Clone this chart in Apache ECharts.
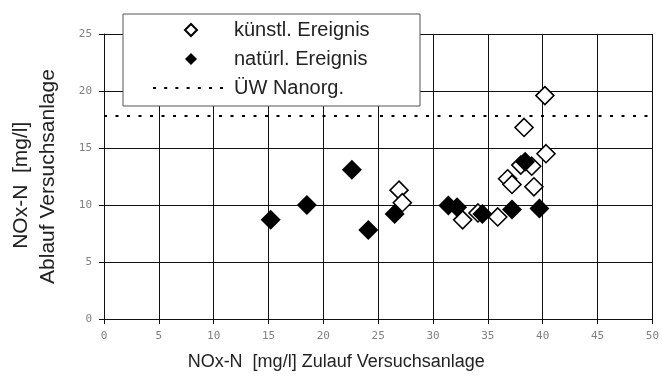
<!DOCTYPE html>
<html>
<head>
<meta charset="utf-8">
<script src="https://cdn.jsdelivr.net/npm/echarts@6/dist/echarts.min.js"></script>
<style>html,body{margin:0;padding:0;background:#fff}#c{width:662px;height:376px}</style>
</head>
<body>
<div id="c"></div>
<script>
// ---- data ----
const xTicks = [0, 5, 10, 15, 20, 25, 30, 35, 40, 45, 50];
const yTicks = [0, 5, 10, 15, 20, 25];

const seriesNames = ['künstl. Ereignis', 'natürl. Ereignis', 'ÜW Nanorg.'];

const kuenstlX = [26.9, 27.2, 32.7, 34.1, 35.9, 36.8, 37.2, 38.0, 39.0, 39.2, 38.3, 40.2, 40.3];
const kuenstlY = [11.3, 10.2, 8.7, 9.3, 8.95, 12.3, 11.8, 13.5, 13.4, 11.6, 16.8, 19.6, 14.5];

const natuerlX = [15.2, 18.5, 22.6, 24.1, 26.5, 31.4, 32.2, 34.5, 37.2, 38.4, 39.7];
const natuerlY = [8.7, 10.0, 13.1, 7.8, 9.2, 9.95, 9.8, 9.2, 9.6, 13.8, 9.7];

const limitValue = 17.8;

const xTitle = 'NOx-N  [mg/l] Zulauf Versuchsanlage';
const yTitleLine1 = 'NOx-N  [mg/l]';
const yTitleLine2 = 'Ablauf Versuchsanlage';

// ---- chart ----
const pair = (xs, ys) => xs.map((x, i) => [x, ys[i]]);
const xMin = xTicks[0], xMax = xTicks[xTicks.length - 1];
const yMin = yTicks[0], yMax = yTicks[yTicks.length - 1];

const diamondIcon = 'path://M0,0M70,12M38,0L44,6L38,12L32,6Z';
const dottedIcon = 'path://M0,0M70,12M0,5h3v2h-3Z M11.2,5h3v2h-3Z M22.4,5h3v2h-3Z M33.6,5h3v2h-3Z M44.8,5h3v2h-3Z M56,5h3v2h-3Z M67,5h3v2h-3Z';
const FONT = 'Liberation Sans';

const chart = echarts.init(document.getElementById('c'), null, {renderer: 'canvas'});
chart.setOption({
  animation: false,
  backgroundColor: '#fff',
  grid: {left: 103, right: 8, top: 34, bottom: 53, containLabel: false},
  legend: {
    orient: 'vertical',
    left: 123, top: 14,
    padding: [5, 26, 7, 29],
    backgroundColor: '#fff',
    borderColor: '#555',
    borderWidth: 1,
    itemWidth: 70, itemHeight: 12, itemGap: 7,
    textStyle: {fontFamily: FONT, fontSize: 20, lineHeight: 22, color: '#222', padding: [0, 0, 0, 6], width: 160},
    data: [
      {name: seriesNames[0], icon: diamondIcon},
      {name: seriesNames[1], icon: diamondIcon},
      {name: seriesNames[2], icon: dottedIcon, itemStyle: {color: '#000', borderWidth: 0}}
    ],
    selectedMode: false
  },
  xAxis: {
    type: 'value', min: xMin, max: xMax, interval: xTicks[1] - xTicks[0],
    name: xTitle, nameLocation: 'middle', nameGap: 34,
    nameTextStyle: {fontFamily: FONT, fontSize: 18, color: '#222', padding: [0, 84, 0, 0]},
    axisLine: {lineStyle: {color: '#111', width: 1}},
    axisTick: {show: true, length: 5, lineStyle: {color: '#111'}},
    axisLabel: {margin: 12, fontFamily: 'DejaVu Sans Mono', fontSize: 11, color: '#808080'},
    splitLine: {show: true, lineStyle: {color: '#111', width: 1}}
  },
  yAxis: {
    type: 'value', min: yMin, max: yMax, interval: yTicks[1] - yTicks[0],
    name: yTitleLine1 + '   \n' + yTitleLine2, nameLocation: 'middle', nameGap: 42,
    nameTextStyle: {fontFamily: FONT, fontSize: 21, lineHeight: 27, color: '#222', align: 'center'},
    axisLine: {show: true, lineStyle: {color: '#111', width: 1}},
    axisTick: {show: true, length: 5, lineStyle: {color: '#111'}},
    axisLabel: {margin: 12, fontFamily: 'DejaVu Sans Mono', fontSize: 11, color: '#808080'},
    splitLine: {show: true, lineStyle: {color: '#111', width: 1}}
  },
  series: [
    {
      name: seriesNames[0], type: 'scatter', symbol: 'diamond', symbolSize: 18, z: 3,
      itemStyle: {color: '#fff', borderColor: '#000', borderWidth: 1.6, opacity: 1},
      data: pair(kuenstlX, kuenstlY)
    },
    {
      name: seriesNames[1], type: 'scatter', symbol: 'diamond', symbolSize: 20, z: 4,
      itemStyle: {color: '#000', borderColor: '#000', borderWidth: 0, opacity: 1},
      data: pair(natuerlX, natuerlY)
    },
    {
      name: seriesNames[2], type: 'line', symbol: 'none', showSymbol: false, z: 2,
      lineStyle: {color: '#000', width: 2, type: [3, 8.5]},
      itemStyle: {color: '#000'},
      data: [[xMin, limitValue], [xMax, limitValue]]
    }
  ]
});
</script>
</body>
</html>
